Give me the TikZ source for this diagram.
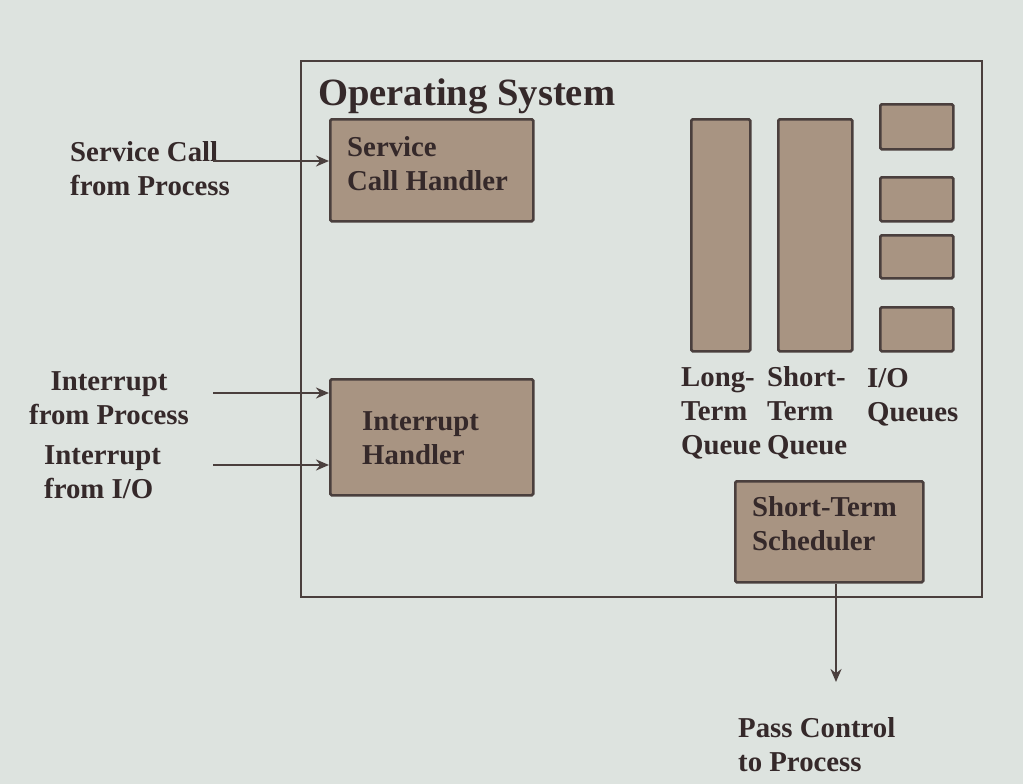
\documentclass[tikz,border=0pt]{standalone}
\usepackage{fontspec}
\setmainfont{Liberation Serif}
\usetikzlibrary{arrows.meta}
\definecolor{bgc}{HTML}{DDE3DF}
\definecolor{boxfill}{HTML}{A89482}
\definecolor{edge}{HTML}{4A3F3D}
\definecolor{txt}{HTML}{35292A}
\tikzset{
  box/.style={draw=edge, line width=2.5pt, fill=boxfill, rounded corners=1.5pt, inner sep=0pt, anchor=north west},
  lbl/.style={text=txt, font=\bfseries\fontsize{28.8}{34}\selectfont, inner sep=0pt, align=left, anchor=west},
  arr/.style={draw=edge, line width=2.2pt, -{Stealth[length=13pt,width=11pt]}}
}
\begin{document}
\begin{tikzpicture}[x=1pt,y=-1pt]
\fill[bgc] (0,0) rectangle (1023,784);
\useasboundingbox (0,0) rectangle (1023,784);
% outer
\node[draw=edge, line width=2.4pt, fill=bgc, inner sep=0pt, anchor=north west, minimum width=681pt, minimum height=536pt] (os) at (300,60) {};
\node[text=txt, font=\bfseries\fontsize{38.6}{44}\selectfont, inner sep=0pt, anchor=base west] (ostitle) at (318,106) {Operating System};
% handlers
\node[box, minimum width=203pt, minimum height=102pt] (sch) at (329,118) {};
\node[lbl] (scht) at (347,164) {Service\\Call Handler};
\node[box, minimum width=203pt, minimum height=116pt] (ih) at (329,378) {};
\node[lbl] (iht) at (362,438) {Interrupt\\Handler};
% queues
\node[box, minimum width=59pt, minimum height=232pt] (ltq) at (690,118) {};
\node[box, minimum width=74pt, minimum height=232pt] (stq) at (777,118) {};
\node[box, minimum width=73pt, minimum height=45pt] (io1) at (879,103) {};
\node[box, minimum width=73pt, minimum height=44pt] (io2) at (879,176) {};
\node[box, minimum width=73pt, minimum height=43pt] (io3) at (879,234) {};
\node[box, minimum width=73pt, minimum height=44pt] (io4) at (879,306) {};
\node[lbl] (ltqt) at (681,413) {Long-\\Term\\Queue};
\node[lbl] (stqt) at (767,413) {Short-\\Term\\Queue};
\node[lbl] (iot) at (867,397) {I/O\\Queues};
% scheduler
\node[box, minimum width=188pt, minimum height=101pt] (sts) at (734,480) {};
\node[lbl] (stst) at (752,524) {Short-Term\\Scheduler};
% external labels
\node[lbl] (scl) at (70,169) {Service Call\\from Process};
\node[lbl, align=center, anchor=center] (ipl) at (109,398) {Interrupt\\from Process};
\node[lbl] (iol) at (44,472) {Interrupt\\from I/O};
\node[lbl] (pcl) at (738,745) {Pass Control\\to Process};
% connectors
\coordinate (a1) at (213,161);
\coordinate (a2) at (213,393);
\coordinate (a3) at (213,465);
\coordinate (a4) at (836,682);
\draw[arr] (a1) -- (sch.west |- a1);
\draw[arr] (a2) -- (ih.west |- a2);
\draw[arr] (a3) -- (ih.west |- a3);
\draw[arr] (sts.south -| a4) -- (a4);
\end{tikzpicture}
\end{document}
